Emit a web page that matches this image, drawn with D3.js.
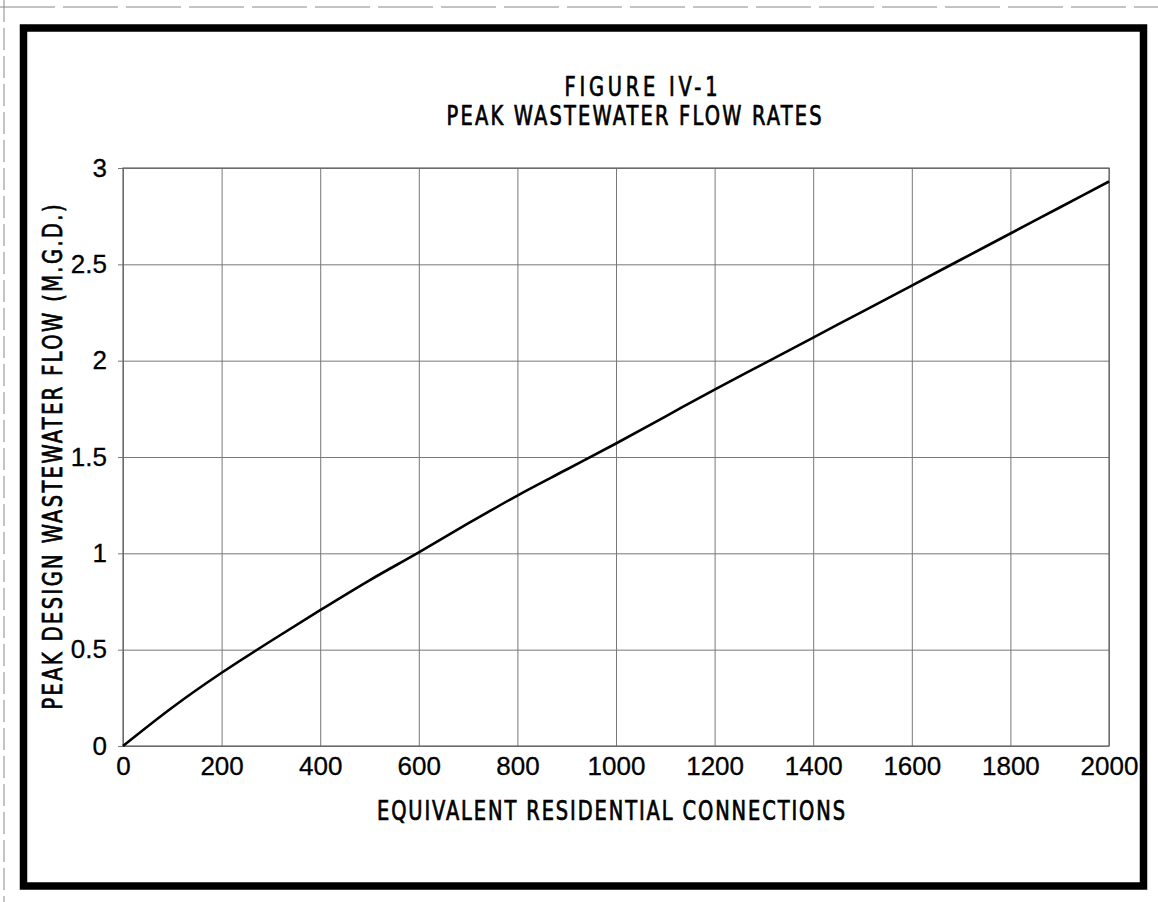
<!DOCTYPE html>
<html>
<head>
<meta charset="utf-8">
<script src="https://cdn.jsdelivr.net/npm/d3@7"></script>
<style>
  body { margin: 0; background: #fff; }
  text { fill: #000; }
</style>
</head>
<body>
<div id="container"></div>
<script>
// values
const connections = [0, 100, 200, 300, 400, 500, 600, 700, 800, 900, 1000,
  1100, 1200, 1300, 1400, 1500, 1600, 1700, 1800, 1900, 2000];
const peakFlow = [0, 0.2, 0.38, 0.545, 0.705, 0.86, 1.005, 1.155, 1.3, 1.435, 1.57,
  1.71, 1.85, 1.985, 2.12, 2.255, 2.39, 2.525, 2.66, 2.795, 2.93];
const xTicks = [0, 200, 400, 600, 800, 1000, 1200, 1400, 1600, 1800, 2000];
const yTicks = [0, 0.5, 1, 1.5, 2, 2.5, 3];
const titleLines = ['FIGURE IV-1', 'PEAK WASTEWATER FLOW RATES'];
const xLabel = 'EQUIVALENT RESIDENTIAL CONNECTIONS';
const yLabel = 'PEAK DESIGN WASTEWATER FLOW (M.G.D.)';

const WIDTH = 1158;
const HEIGHT = 902;
const margin = { left: 123, top: 168, right: 1109, bottom: 746 };
const labelFont = 'Liberation Sans, Arial, sans-serif';
const narrowFont = 'Liberation Sans Narrow, DejaVu Sans Condensed, sans-serif';
const squeeze = 0.83; // CAD lettering is tall and thin

let svg = d3.select('#container').append('svg').attr('width', WIDTH).attr('height', HEIGHT);

// faint dashed sheet edge
svg.append('line').attr('x1', 0).attr('x2', WIDTH).attr('y1', 7).attr('y2', 7)
  .attr('stroke', '#888').attr('stroke-dasharray', '55,8');
svg.append('line').attr('x1', 4).attr('x2', 4).attr('y1', 0).attr('y2', HEIGHT)
  .attr('stroke', '#888').attr('stroke-dasharray', '22,6');

// heavy frame
svg.append('rect').attr('x', 23.5).attr('y', 28).attr('width', 1120).attr('height', 858)
  .attr('fill', 'none').attr('stroke', '#000').attr('stroke-width', 7.5);

let x = d3.scaleLinear().domain([0, 2000]).range([margin.left, margin.right]);
let y = d3.scaleLinear().domain([0, 3]).range([margin.bottom, margin.top]);
const w = margin.right - margin.left;
const h = margin.bottom - margin.top;

// grid via axes
let yAxis = svg.append('g').attr('transform', `translate(${margin.left},0)`)
  .call(d3.axisLeft(y).tickValues(yTicks).tickSize(-w).tickFormat(d3.format('~g')));
yAxis.select('.domain').remove();
yAxis.selectAll('.tick line').attr('x1', -5).attr('stroke', '#777').attr('stroke-width', 1);
yAxis.selectAll('.tick text').attr('x', -16).attr('font-family', labelFont)
  .attr('font-size', 26).attr('fill', '#000').attr('stroke', '#000').attr('stroke-width', 0.3);

let xAxis = svg.append('g').attr('transform', `translate(0,${margin.bottom})`)
  .call(d3.axisBottom(x).tickValues(xTicks).tickSize(-h).tickFormat(d3.format('d')));
xAxis.select('.domain').remove();
xAxis.selectAll('.tick line').attr('stroke', '#777').attr('stroke-width', 1);
xAxis.selectAll('.tick text').attr('y', 11).attr('font-family', labelFont)
  .attr('font-size', 26).attr('fill', '#000').attr('stroke', '#000').attr('stroke-width', 0.3);

// plot edges slightly darker
svg.append('rect').attr('x', margin.left).attr('y', margin.top).attr('width', w).attr('height', h)
  .attr('fill', 'none').attr('stroke', '#666').attr('stroke-width', 1.2);

let line = d3.line().x((d, i) => x(connections[i])).y((d) => y(d)).curve(d3.curveMonotoneX);
svg.append('path').datum(peakFlow).attr('d', line)
  .attr('fill', 'none').attr('stroke', '#000').attr('stroke-width', 2.6);

// narrow spaced lettering: squeeze glyphs horizontally, then spread to the drawn length
function cadText(transform, str, len, size) {
  svg.append('g').attr('transform', `${transform} scale(${squeeze},1)`)
    .append('text').attr('text-anchor', 'middle')
    .attr('font-family', narrowFont).attr('font-size', size)
    .attr('stroke', '#000').attr('stroke-width', 0.7)
    .attr('textLength', len / squeeze).attr('lengthAdjust', 'spacing')
    .text(str);
}

cadText('translate(641,96)', titleLines[0], 153, 26);
cadText('translate(634,125)', titleLines[1], 375, 26);
cadText('translate(611,820)', xLabel, 468, 26);
cadText('translate(62,457) rotate(-90)', yLabel, 505, 26);
</script>
</body>
</html>
